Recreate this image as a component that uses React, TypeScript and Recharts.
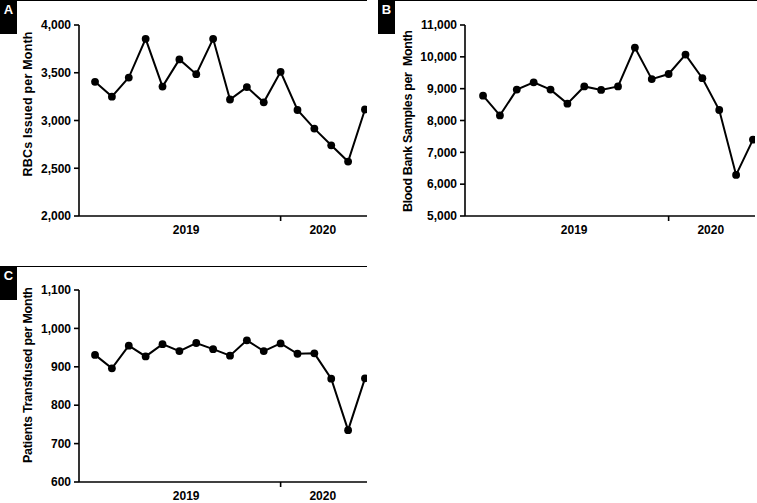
import React from 'react';
import { LineChart, Line, XAxis, YAxis } from 'recharts';

// months Feb 2019 .. Jun 2020 (index 11 = Jan 2020)
const monthIdx = [0, 1, 2, 3, 4, 5, 6, 7, 8, 9, 10, 11, 12, 13, 14, 15, 16];

const rbcsIssued = [3405, 3250, 3450, 3855, 3355, 3640, 3485, 3855, 3220, 3350, 3190, 3510, 3110, 2915, 2740, 2570, 3115];
const bloodBankSamples = [8780, 8160, 8970, 9200, 8970, 8530, 9070, 8960, 9070, 10290, 9300, 9460, 10070, 9330, 8330, 6290, 7400];
const patientsTransfused = [931, 896, 955, 927, 959, 941, 962, 946, 929, 969, 941, 961, 934, 935, 869, 735, 870];

const ticksA = [2000, 2500, 3000, 3500, 4000];
const ticksB = [5000, 6000, 7000, 8000, 9000, 10000, 11000];
const ticksC = [600, 700, 800, 900, 1000, 1100];

const yearTicks = [5.4, 13.5];
const yearLabels = ['2019', '2020'];
const yearBoundary = 11;

const FONT = '"Liberation Sans", Arial, Helvetica, sans-serif';

const YearTick = (props: any) => {
  const { x, y, payload } = props;
  if (payload.value === yearBoundary) {
    return <line x1={x} x2={x} y1={y} y2={y + 5} stroke="#000" strokeWidth={1.6} />;
  }
  const i = yearTicks.indexOf(payload.value);
  return (
    <text x={x} y={y + 18} textAnchor="middle" fontFamily={FONT} fontWeight="bold" fontSize={12} fill="#000">
      {yearLabels[i]}
    </text>
  );
};

interface PanelProps {
  values: number[];
  yTicks: number[];
  title: string;
  width: number;
  height: number;
  yWidth: number;
  xHeight: number;
  right: number;
  xDomain: [number, number];
  titleX: number;
  titleY: number;
  titleLen: number;
}

const Panel: React.FC<PanelProps> = ({ values, yTicks, title, width, height, yWidth, xHeight, right, xDomain, titleX, titleY, titleLen }) => {
  const data = monthIdx.map((m, i) => ({ m, v: values[i] }));
  return (
    <LineChart width={width} height={height} data={data} margin={{ top: 25, right, bottom: 0, left: 0 }}>
      <XAxis
        dataKey="m"
        type="number"
        domain={xDomain}
        ticks={[yearTicks[0], yearBoundary, yearTicks[1]]}
        interval={0}
        tickLine={false}
        tickSize={0}
        tickMargin={0}
        height={xHeight}
        axisLine={{ stroke: '#000', strokeWidth: 1.6 }}
        tick={<YearTick />}
        allowDataOverflow
      />
      <YAxis
        type="number"
        domain={[yTicks[0], yTicks[yTicks.length - 1]]}
        ticks={yTicks}
        interval={0}
        width={yWidth}
        tickSize={5}
        tickMargin={3}
        axisLine={{ stroke: '#000', strokeWidth: 1.6 }}
        tickLine={{ stroke: '#000', strokeWidth: 1.6 }}
        tick={{ fill: '#000', fontSize: 12, fontWeight: 'bold', fontFamily: FONT }}
        tickFormatter={(v: number) => v.toLocaleString('en-US')}
        label={{
          content: () => (
            <text
              x={titleX}
              y={titleY}
              transform={`rotate(-90, ${titleX}, ${titleY})`}
              textAnchor="middle"
              dominantBaseline="central"
              fontFamily={FONT}
              fontWeight="bold"
              fontSize={12.5}
              fill="#000"
              textLength={titleLen}
              lengthAdjust="spacing"
              style={{ whiteSpace: 'pre' }}
            >
              {title}
            </text>
          ),
        }}
      />
      <Line
        dataKey="v"
        stroke="#000"
        strokeWidth={2}
        dot={{ r: 3.9, fill: '#000', stroke: '#000', strokeWidth: 0 }}
        isAnimationActive={false}
      />
    </LineChart>
  );
};

const Header = ({ top, lineLeft, lineWidth, boxLeft, letter }: any) => (
  <>
    <div style={{ position: 'absolute', left: lineLeft, top, width: lineWidth, height: 1.3, background: '#000' }} />
    <div
      style={{
        position: 'absolute',
        left: boxLeft,
        top,
        width: 17,
        height: 34,
        background: '#000',
        color: '#fff',
        fontFamily: FONT,
        fontWeight: 'bold',
        fontSize: 13,
        lineHeight: '20px',
        textAlign: 'center',
      }}
    >
      {letter}
    </div>
  </>
);

export default function App() {
  return (
    <div style={{ position: 'absolute', left: 0, top: 0, width: 757, height: 503, background: '#fff', overflow: 'hidden' }}>
      <Header top={0} lineLeft={0} lineWidth={367} boxLeft={0} letter="A" />
      <Header top={0} lineLeft={394} lineWidth={363} boxLeft={378} letter="B" />
      <Header top={266} lineLeft={0} lineWidth={367} boxLeft={0} letter="C" />

      <div style={{ position: 'absolute', left: 0, top: 0 }}>
        <Panel
          values={rbcsIssued}
          yTicks={ticksA}
          title="RBCs Issued per Month"
          width={370}
          height={250}
          yWidth={79}
          xHeight={34}
          right={3}
          xDomain={[-0.95, 16.12]}
          titleX={28}
          titleY={104}
          titleLen={145}
        />
      </div>
      <div style={{ position: 'absolute', left: 375, top: 0 }}>
        <Panel
          values={bloodBankSamples}
          yTicks={ticksB}
          title="Blood Bank Samples per  Month"
          width={382}
          height={250}
          yWidth={90}
          xHeight={34}
          right={2}
          xDomain={[-1.07, 16.12]}
          titleX={33}
          titleY={121}
          titleLen={182}
        />
      </div>
      <div style={{ position: 'absolute', left: 0, top: 265 }}>
        <Panel
          values={patientsTransfused}
          yTicks={ticksC}
          title="Patients Transfused per Month"
          width={370}
          height={238}
          yWidth={79}
          xHeight={21}
          right={3}
          xDomain={[-0.95, 16.12]}
          titleX={28}
          titleY={110}
          titleLen={176}
        />
      </div>
    </div>
  );
}
